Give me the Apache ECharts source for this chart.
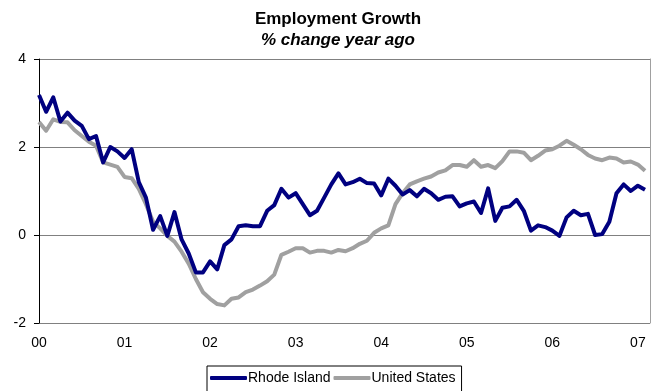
<!DOCTYPE html>
<html>
<head>
<meta charset="utf-8">
<script src="https://cdn.jsdelivr.net/npm/echarts@6/dist/echarts.min.js"></script>
<style>
  html, body { margin: 0; padding: 0; background: #fff; }
  #chart { width: 651px; height: 391px; }
</style>
</head>
<body>
<div id="chart"></div>
<script>
// monthly, Jan 2000 .. Feb 2007
const yearLabels = ['00', '01', '02', '03', '04', '05', '06', '07']
const rhodeIsland = [
  3.18, 2.80, 3.13, 2.58, 2.78, 2.60, 2.48, 2.18, 2.25, 1.65, 2.00, 1.90,
  1.75, 1.95, 1.20, 0.85, 0.12, 0.43, -0.02, 0.52, -0.10, -0.42, -0.85, -0.85,
  -0.60, -0.78, -0.23, -0.10, 0.20, 0.22, 0.20, 0.20, 0.55, 0.68, 1.05, 0.85,
  0.95, 0.70, 0.45, 0.55, 0.85, 1.15, 1.40, 1.15, 1.20, 1.28, 1.18, 1.17,
  0.90, 1.28, 1.12, 0.92, 1.02, 0.88, 1.05, 0.95, 0.80, 0.87, 0.88, 0.65,
  0.72, 0.76, 0.50, 1.06, 0.32, 0.62, 0.65, 0.80, 0.55, 0.10, 0.22, 0.18,
  0.10, -0.02, 0.40, 0.55, 0.45, 0.48, 0.00, 0.02, 0.30, 0.95, 1.15, 1.00,
  1.12, 1.03
]
const unitedStates = [
  2.57, 2.37, 2.63, 2.57, 2.56, 2.38, 2.25, 2.12, 2.03, 1.65, 1.60, 1.55,
  1.32, 1.29, 1.05, 0.70, 0.30, 0.15, -0.02, -0.15, -0.38, -0.65, -1.00, -1.30,
  -1.45, -1.57, -1.60, -1.45, -1.42, -1.30, -1.24, -1.15, -1.05, -0.90, -0.45, -0.38,
  -0.30, -0.30, -0.40, -0.36, -0.36, -0.40, -0.34, -0.37, -0.30, -0.20, -0.13, 0.05,
  0.15, 0.22, 0.70, 0.95, 1.15, 1.22, 1.28, 1.33, 1.42, 1.47, 1.59, 1.59,
  1.55, 1.70, 1.55, 1.59, 1.52, 1.68, 1.90, 1.90, 1.87, 1.70, 1.80, 1.92,
  1.95, 2.03, 2.14, 2.05, 1.95, 1.82, 1.74, 1.70, 1.76, 1.74, 1.65, 1.67,
  1.60, 1.46
]
const yTicks = [-2, 0, 2, 4]

const font = 'Liberation Sans, Arial, sans-serif'
const toPairs = arr => arr.map((v, i) => [i, v])

let myChart = echarts.init(document.getElementById('chart'))
myChart.setOption({
  animation: false,
  title: {
    text: 'Employment Growth',
    subtext: '% change year ago',
    left: 333,
    textAlign: 'center',
    top: 6,
    itemGap: 4,
    textStyle: { fontFamily: font, fontSize: 17, fontWeight: 'bold', color: '#000' },
    subtextStyle: { fontFamily: font, fontSize: 17, fontWeight: 'bold', fontStyle: 'italic', color: '#000' }
  },
  legend: {
    top: 366,
    left: 207,
    padding: [5, 6, 8, 3],
    itemGap: 3,
    itemWidth: 37,
    itemHeight: 4,
    icon: 'roundRect',
    borderColor: '#000',
    borderWidth: 1,
    textStyle: { fontFamily: font, fontSize: 14, color: '#000', padding: [0, 0, 0, -4] },
    data: ['Rhode Island', 'United States']
  },
  grid: { left: 36, right: 1, top: 59, bottom: 68 },
  xAxis: {
    type: 'value',
    min: -0.42,
    max: 85.7,
    axisLine: { show: false },
    axisTick: { show: false },
    splitLine: { show: false },
    axisLabel: {
      customValues: yearLabels.map((s, i) => i * 12),
      formatter: v => yearLabels[Math.round(v / 12)],
      fontFamily: font, fontSize: 14, color: '#000', margin: 13
    }
  },
  yAxis: [{
    type: 'value',
    min: -2,
    max: 4,
    interval: 2,
    axisLine: { show: true, lineStyle: { color: '#000', width: 1 } },
    axisTick: { show: true, length: 5, lineStyle: { color: '#000' } },
    splitLine: { show: true, lineStyle: { color: '#808080', width: 1 } },
    axisLabel: {
      formatter: v => (yTicks.includes(v) ? String(v) : ''),
      fontFamily: font, fontSize: 14, color: '#000', margin: 10
    }
  }, {
    type: 'value',
    position: 'right',
    min: -2,
    max: 4,
    axisLine: { show: true, lineStyle: { color: '#a0a0a0', width: 1 } },
    axisTick: { show: false },
    axisLabel: { show: false },
    splitLine: { show: false }
  }],
  series: [{
    name: 'Rhode Island',
    type: 'line',
    symbol: 'none',
    data: toPairs(rhodeIsland),
    color: '#000080',
    lineStyle: { width: 4, color: '#000080', join: 'round' },
    z: 3
  }, {
    name: 'United States',
    type: 'line',
    symbol: 'none',
    data: toPairs(unitedStates),
    color: '#a0a0a0',
    lineStyle: { width: 4, color: '#a0a0a0', join: 'round' },
    z: 2
  }]
})
</script>
</body>
</html>
